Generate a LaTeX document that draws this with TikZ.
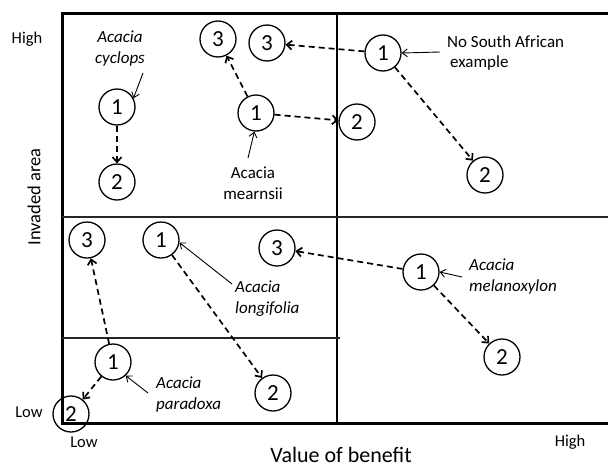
\documentclass[tikz,border=0pt]{standalone}
\usepackage{fontspec}
\setmainfont{Carlito}
\usetikzlibrary{arrows.meta, positioning}
\tikzset{
	stage/.style={draw, circle, line width=1.3pt, minimum size=36pt, inner sep=0pt, font=\fontsize{23}{23}\selectfont},
	spread/.style={line width=1.7pt, dash pattern=on 6pt off 4pt, -{Straight Barb[length=5pt, width=9pt]}},
	pointer/.style={line width=0.9pt, -{Straight Barb[length=5pt, width=8pt]}},
	species/.style={font=\fontsize{17}{21}\selectfont\itshape, align=left, inner sep=0pt},
	level/.style={font=\fontsize{16.5}{16.5}\selectfont, inner sep=0pt},
	>=latex
}

\begin{document}
\begin{tikzpicture}[x=1pt, y=-1pt]
	% IMAGE SIZE
	\useasboundingbox (0,0) rectangle (608,469);
	\newcommand{\xMin}{62} \newcommand{\xMax}{608}
	\newcommand{\yMin}{423} \newcommand{\yMax}{13}
	
	% Frame
	\draw[line width=3pt] (\xMax,\yMax) -- (\xMin,\yMax) -- (\xMin,\yMin) -- (\xMax,\yMin);
	\draw[line width=2.6pt] (337,\yMax) -- (337,\yMin);
	\draw[line width=1.6pt, black!85] (\xMin,217) -- (\xMax,217);
	\draw[line width=1.6pt, black!85] (\xMin,338) -- (340,338);
	
	% Axis labels
	\node[level] (yhigh) at (27,39) {High};
	\node[level] (ylow) at (29,412) {Low};
	\node[level] (xlow) at (84,442) {Low};
	\node[level] (xhigh) at (570,442) {High};
	\node[font=\fontsize{22}{22}\selectfont, anchor=base, inner sep=0pt] (xtitle) at (341,462) {Value of benefit};
	\node[font=\fontsize{18.5}{18.5}\selectfont, rotate=90] (ytitle) at (34,197) {Invaded area};
	
	% Stages
	\node[stage] (cy1) at (117,107) {1};
	\node[stage] (cy2) at (117,182) {2};
	\node[stage] (me1) at (256,113) {1};
	\node[stage] (me2) at (357,122) {2};
	\node[stage] (me3) at (218,39) {3};
	\node[stage] (ns1) at (383,53) {1};
	\node[stage] (ns2) at (485,175) {2};
	\node[stage] (ns3) at (267,43) {3};
	\node[stage] (lo1) at (161,240) {1};
	\node[stage] (lo2) at (273,393) {2};
	\node[stage] (pa1) at (113,362) {1};
	\node[stage] (pa2) at (71,414) {2};
	\node[stage] (pa3) at (87,240) {3};
	\node[stage] (ml1) at (421,272) {1};
	\node[stage] (ml2) at (502,357) {2};
	\node[stage] (ml3) at (277,248) {3};
	
	% Species names
	\node[species, align=center] (cyName) at (120,49) {Acacia\\cyclops};
	\node[species, font=\fontsize{17}{21}\selectfont, align=center] (meName) at (253,183) {Acacia\\mearnsii};
	\node[species, font=\fontsize{17}{20}\selectfont, anchor=west] (nsName) at (447,53) {No South African\\\hspace{3pt}example};
	\node[species, anchor=west] (loName) at (235,299) {Acacia\\longifolia};
	\node[species, anchor=west] (paName) at (156,395) {Acacia\\paradoxa};
	\node[species, anchor=west] (mlName) at (469,277) {Acacia\\melanoxylon};
	
	% Pointers to the stages
	\coordinate (cyTail) at (143,73);
	\coordinate (meTail) at (248,158);
	\coordinate (nsTail) at (440,52);
	\coordinate (loTail) at (232,284);
	\coordinate (paTail) at (148,393);
	\coordinate (mlTail) at (462,277);
	\draw[pointer] (cyTail) -- (cy1.28);
	\draw[pointer] (meTail) -- (me1.265);
	\draw[pointer] (nsTail) -- (ns1.east);
	\draw[pointer] (loTail) -- (lo1.352);
	\draw[pointer] (paTail) -- (pa1.-47);
	\draw[pointer] (mlTail) -- (ml1.east);
	
	% Changes over time
	\draw[spread] (cy1) -- (cy2);
	\draw[spread] (me1) -- (me3);
	\draw[spread] (me1) -- (me2);
	\draw[spread] (ns1) -- (ns3);
	\draw[spread] (ns1) -- (ns2);
	\draw[spread] (lo1) -- (lo2);
	\draw[spread] (pa1) -- (pa3);
	\draw[spread] (pa1) -- (pa2);
	\draw[spread] (ml1) -- (ml3);
	\draw[spread] (ml1) -- (ml2);
\end{tikzpicture}
\end{document}
